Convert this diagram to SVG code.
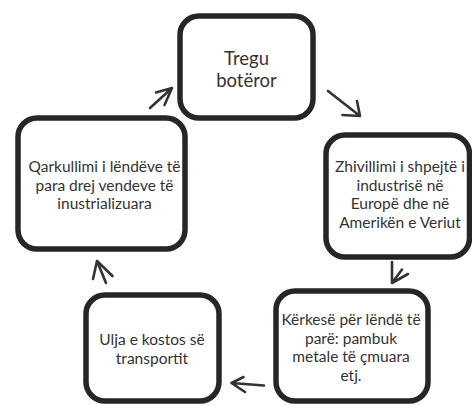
<svg xmlns="http://www.w3.org/2000/svg" width="472" height="406" viewBox="0 0 472 406">
  <style>
    .box { fill: #ffffff; stroke: #262626; stroke-width: 5.5; }
    .t { font-family: Lato, "Open Sans", "Liberation Sans", sans-serif; font-size: 15.5px; fill: #333333; text-anchor: middle; }
    .big { font-size: 18.5px; }
    .arr { fill: none; stroke: #333333; stroke-width: 2.6; stroke-linecap: round; stroke-linejoin: round; }
  </style>
  <rect x="0" y="0" width="472" height="406" fill="#ffffff"/>
  <g id="connectors">
    <path class="arr" d="M150,108 L172,88 M156,92.5 L172,88 L164.5,105"/>
    <path class="arr" d="M328,91 L360,116 M357,101 L360,116 L342.5,115"/>
    <path class="arr" d="M392,262 L392,283 L402,269.5 M392,283 L408,274"/>
    <path class="arr" d="M264,385.5 L231.5,383 M243.5,377 L231.5,383 L245,392"/>
    <path class="arr" d="M106,283 L97,261 L93,279 M97,261 L112.5,276"/>
  </g>
  <g id="node-tregu">
    <rect class="box" x="180" y="16" width="133" height="102" rx="19" ry="19"/>
    <text class="t big" x="246.5" y="64.5">Tregu</text>
    <text class="t big" x="246.5" y="87">botëror</text>
  </g>
  <g id="node-zhvillimi">
    <rect class="box" x="326" y="135" width="143.5" height="122" rx="19" ry="19"/>
    <text class="t" x="400" y="172">Zhivillimi i shpejtë i</text>
    <text class="t" x="400" y="190.5">industrisë në</text>
    <text class="t" x="400" y="209">Europë dhe në</text>
    <text class="t" x="400" y="227.5">Amerikën e Veriut</text>
  </g>
  <g id="node-kerkese">
    <rect class="box" x="276" y="291" width="152" height="110" rx="19" ry="19"/>
    <text class="t" x="351" y="325">Kërkesë për lëndë të</text>
    <text class="t" x="351" y="343.5">parë: pambuk</text>
    <text class="t" x="351" y="362">metale të çmuara</text>
    <text class="t" x="351" y="380.5">etj.</text>
  </g>
  <g id="node-ulja">
    <rect class="box" x="86" y="295" width="133" height="106" rx="19" ry="19"/>
    <text class="t" x="152" y="345">Ulja e kostos së</text>
    <text class="t" x="152" y="363.5">transportit</text>
  </g>
  <g id="node-qarkullimi">
    <rect class="box" x="18" y="118" width="167" height="131" rx="19" ry="19"/>
    <text class="t" x="104.5" y="172">Qarkullimi i lëndëve të</text>
    <text class="t" x="104.5" y="190.5">para drej vendeve të</text>
    <text class="t" x="104.5" y="209">inustrializuara</text>
  </g>
</svg>
